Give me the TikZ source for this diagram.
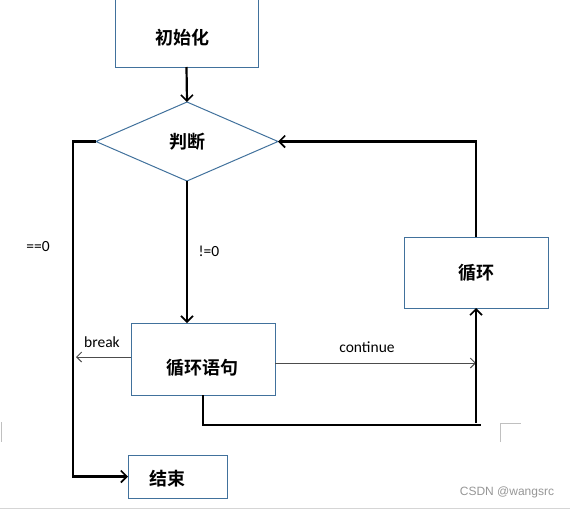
\documentclass[tikz,border=0pt]{standalone}
\usepackage{fontspec}
\setmainfont{Carlito}
\newfontfamily\cjk{Noto Sans CJK SC Bold}
\newfontfamily\markfont{Liberation Sans}
\usetikzlibrary{arrows.meta,shapes.geometric}
\definecolor{boxblue}{RGB}{65,113,156}
\definecolor{markgray}{RGB}{150,150,150}
\begin{document}
\begin{tikzpicture}[x=1pt,y=-1pt,inner sep=0pt,outer sep=0pt,line width=2.2pt,
>={Straight Barb[length=6pt,width=12pt,line width=1.6pt]},
sysblock/.style={draw=boxblue,rectangle,line width=1pt},
cjktext/.style={font=\cjk\fontsize{18}{20}\selectfont},
smalltext/.style={font=\fontsize{15.5}{17}\selectfont},
thinarrow/.style={->,line width=1pt,draw=black!70,>={Straight Barb[length=5pt,width=10pt,line width=1pt]}}]
\useasboundingbox (0,0) rectangle (570,509);
\draw (186.5,23.5) node[sysblock,minimum width=143pt,minimum height=87pt] (initbox) {};
\draw (182,38) node[cjktext] (inittext) {初始化};
\draw (187,141.5) node[draw=boxblue,diamond,line width=1pt,minimum width=182pt,minimum height=79pt,cjktext] (judge) {判断};
\draw (203,359) node[sysblock,minimum width=144pt,minimum height=72pt] (bodybox) {};
\draw (202,368) node[cjktext] (bodytext) {循环语句};
\draw (476,272.5) node[sysblock,minimum width=144pt,minimum height=71pt,cjktext] (loopbox) {循环};
\draw (177.5,476.5) node[sysblock,minimum width=99pt,minimum height=43pt] (stopbox) {};
\draw (167,479) node[cjktext] (stoptext) {结束};
\coordinate (breakend) at (76,357);
\coordinate (loopcorner) at (481,425);
\coordinate (loopfoot) at (476,423);
\draw[->] (initbox.south) -- (judge.north);
\draw[->] (judge.west) -- ++(-23,0) |- (stopbox.west);
\draw (38,247) node[smalltext] (zerolabel) {==0};
\draw[->] (judge.south) -- (judge.south |- bodybox.north);
\draw (209,251) node[smalltext] (nonzerolabel) {!=0};
\draw[thinarrow] (bodybox.west |- breakend) -- (breakend);
\draw (102,342) node[smalltext] (breaklabel) {break};
\draw[thinarrow] ([yshift=-4pt]bodybox.east) -- ([yshift=-4pt]bodybox.east -| loopbox.south);
\draw (367,347) node[smalltext] (contlabel) {continue};
\draw (bodybox.south) |- (loopcorner);
\draw[->] (loopfoot) -- (loopbox.south);
\draw[->] (loopbox.north) |- (judge.east);
% page corner marks and watermark
\draw[markgray!60,line width=0.8pt] (1,422) -- (1,442);
\draw[markgray!60,line width=0.8pt] (500,442) -- (500,423) -- (521,423);
\draw[markgray!40,line width=0.8pt] (0,508.5) -- (570,508.5);
\draw (507,492) node[font=\markfont\fontsize{12}{14}\selectfont,text=markgray] (mark) {CSDN @wangsrc};
\end{tikzpicture}
\end{document}
